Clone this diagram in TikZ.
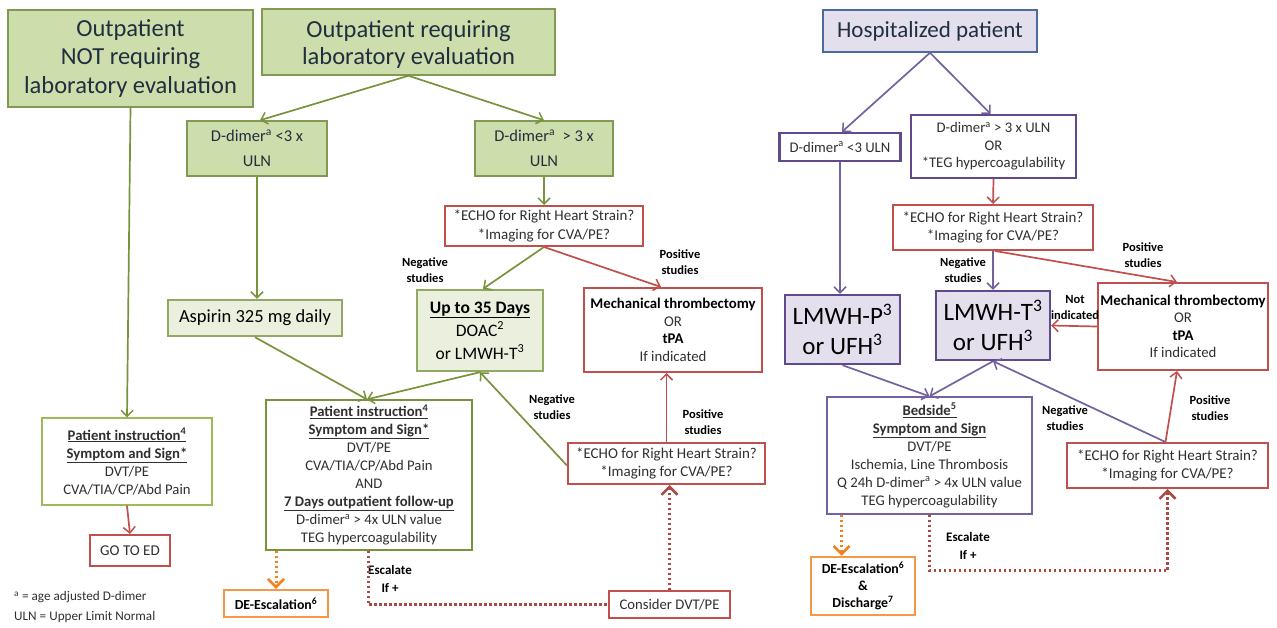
\documentclass[tikz,border=0pt]{standalone}
\usepackage{fontspec}
\setmainfont{Carlito}
\usetikzlibrary{arrows.meta}
\definecolor{gfill}{HTML}{CDDDAC}
\definecolor{gborder}{HTML}{7F9A52}
\definecolor{gline}{HTML}{77933C}
\definecolor{glight}{HTML}{9BBB59}
\definecolor{lgfill}{HTML}{EAF0DD}
\definecolor{rline}{HTML}{C0504D}
\definecolor{pline}{HTML}{604A8B}
\definecolor{parrow}{HTML}{7462A0}
\definecolor{lavfill}{HTML}{E4DFEC}
\definecolor{hborder}{HTML}{4F6A9E}
\definecolor{oline}{HTML}{F79646}
\definecolor{oarrow}{HTML}{F0821E}
\definecolor{ttext}{HTML}{1F2F3F}
\definecolor{btext}{HTML}{303030}
\newcommand{\fs}[2]{\fontsize{#1}{#2}\selectfont}
\newcommand{\bu}[1]{\textbf{\underline{#1}}}
\tikzset{
  every node/.style={align=center, inner sep=0pt, text=btext},
  title/.style={draw=gborder, fill=gfill, line width=1.5pt, text=ttext, font=\fs{24.5}{28.5}},
  gbox/.style={draw=gborder, fill=gfill, line width=1.5pt, text=ttext, font=\fs{16.5}{25}},
  lgbox/.style={draw=gline!80, fill=lgfill, line width=2.4pt, text=black},
  wgbox/.style={draw=gline, fill=white, line width=1.3pt, font=\fs{14.7}{18}},
  rbox/.style={draw=rline, fill=white, line width=2pt, font=\fs{15}{18.5}},
  pbox/.style={draw=pline, fill=white, line width=2.4pt, font=\fs{14.7}{18}},
  lavbox/.style={draw=pline, fill=lavfill, line width=2.4pt, text=black, font=\fs{25}{30}},
  obox/.style={draw=oline, fill=white, line width=2.5pt, font=\fs{13.8}{20}\bfseries, text=black},
  lbl/.style={font=\fs{12.5}{16}\bfseries, text=black},
  tip/.style={-{Straight Barb[length=6pt,width=12pt,line width=1.5pt]}},
  garr/.style={draw=gline, line width=1.7pt, tip},
  rarr/.style={draw=rline, line width=1.7pt, tip},
  parr/.style={draw=parrow, line width=1.7pt, tip},
  rdot/.style={draw=rline!90!black, line width=3pt, dash pattern=on 2.5pt off 2.5pt},
  odot/.style={draw=oarrow, line width=3pt, dash pattern=on 2.5pt off 2.5pt},
  dtip/.style={-{Straight Barb[length=8pt,width=16pt,line width=2.5pt]}},
  mechbox/.style={rbox, font=\fs{14.8}{17.5}},
}
\begin{document}
\begin{tikzpicture}[x=1pt,y=-1pt]
\useasboundingbox (0,0) rectangle (1277,627);
% ---------- left: outpatient ----------
\node[title, minimum width=245pt, minimum height=97pt] (notreq) at (130.5,58.5) {Outpatient\\NOT requiring\\laboratory evaluation};
\node[title, minimum width=293pt, minimum height=66pt,
  label={[font=\fs{24.5}{27}, text=ttext, align=center, yshift=-3pt]center:Outpatient requiring\\laboratory evaluation}] (req) at (408.5,42) {};
\node[gbox, minimum width=140pt, minimum height=55pt] (dlow) at (257,148.5) {D-dimer\textsuperscript{a} <3 x\\ULN};
\node[gbox, minimum width=138pt, minimum height=55pt] (dhigh) at (544,148.5) {D-dimer\textsuperscript{a}\ \ > 3 x\\ULN};
\node[wgbox, draw=glight, minimum width=170pt, minimum height=87pt] (pi1) at (127,461.5) {\bu{Patient instruction\textsuperscript{4}}\\\bu{Symptom and Sign*}\\DVT/PE\\CVA/TIA/CP/Abd Pain};
\node[rbox, font=\fs{15}{18}, minimum width=80pt, minimum height=31pt] (goto) at (130,550.5) {GO TO ED};
\node[anchor=west, font=\fs{13.2}{20}, text=btext, align=left] (foot) at (14,607) {\textsuperscript{a} = age adjusted D-dimer\\ULN = Upper Limit Normal};
\node[lgbox, font=\fs{18.5}{20}, minimum width=174pt, minimum height=36pt] (asp) at (255,318) {Aspirin 325 mg daily};
\node[rbox, minimum width=198pt, minimum height=40pt] (echo1) at (544,226) {*ECHO for Right Heart Strain?\\*Imaging for CVA/PE?};
\node[lgbox, font=\fs{17.5}{23}, minimum width=126pt, minimum height=81pt] (up35) at (480,330.5) {\bu{Up to 35 Days}\\DOAC\textsuperscript{2}\\or LMWH-T\textsuperscript{3}};
\node[mechbox, minimum width=178pt, minimum height=84pt] (mech1) at (673,330) {\textbf{\color{black}Mechanical thrombectomy}\\OR\\\textbf{\color{black}tPA}\\If indicated};
\node[wgbox, minimum width=206pt, minimum height=150pt] (pi2) at (369,475) {\bu{Patient instruction\textsuperscript{4}}\\\bu{Symptom and Sign*}\\DVT/PE\\CVA/TIA/CP/Abd Pain\\AND\\\bu{7 Days outpatient follow-up}\\D-dimer\textsuperscript{a} > 4x ULN value\\TEG hypercoagulability};
\node[rbox, minimum width=197pt, minimum height=41pt] (echo2) at (666.5,463.5) {*ECHO for Right Heart Strain?\\*Imaging for CVA/PE?};
\node[rbox, font=\fs{14.7}{18}, minimum width=121pt, minimum height=27pt] (consider) at (669.5,604.5) {Consider DVT/PE};
\node[obox, minimum width=104pt, minimum height=27pt] (de1) at (276,603.5) {DE-Escalation\textsuperscript{6}};
% labels left
\node[lbl] (l1) at (425,270) {Negative\\studies};
\node[lbl] (l2) at (680,262) {Positive\\studies};
\node[lbl] (l3) at (552,407) {Negative\\studies};
\node[lbl] (l4) at (703,422) {Positive\\studies};
\node[lbl, font=\fs{13}{18}\bfseries] (l5) at (390,579) {Escalate\\If +};
% connectors left
\draw[garr] (notreq.south) -- (pi1.north);
\draw[rarr] (pi1.south) -- (goto.north);
\draw[garr] (req.south) -- ([xshift=3pt]dlow.north);
\draw[garr] (req.south) -- (dhigh.north);
\draw[garr] (dlow.south) -- ([xshift=2pt]asp.north);
\draw[garr] (dhigh.south) -- (echo1.north);
\draw[garr] (echo1.south) -- ([xshift=3pt]up35.north);
\draw[rarr] (echo1.south) -- ([xshift=-12pt]mech1.north);
\draw[garr] (asp.south) -- ([xshift=-2pt]pi2.north);
\draw[garr] (up35.south) -- ([xshift=-2pt]pi2.north);
\draw[garr] ([yshift=-2pt]echo2.west) -- (up35.south);
\draw[rarr] (echo2.north) -- (echo2.north |- mech1.south);
\draw[rdot, dtip] (consider.north) -- (consider.north |- echo2.south);
\draw[rdot] ([xshift=-1pt]pi2.south) |- (consider.west);
\draw[odot, dtip] (pi2.south -| de1.north) -- (de1.north);
% ---------- right: hospitalized ----------
\node[draw=hborder, fill=lavfill, line width=1.5pt, text=ttext, font=\fs{23}{26}, minimum width=214pt, minimum height=42pt] (hosp) at (930,31) {Hospitalized patient};
\node[pbox, minimum width=121pt, minimum height=28pt] (dl3) at (840,147) {D-dimer\textsuperscript{a} <3 ULN};
\node[pbox, font=\fs{14.7}{17.5}, minimum width=165pt, minimum height=63pt] (dg3) at (993.5,146.5) {D-dimer\textsuperscript{a} > 3 x ULN\\OR\\*TEG hypercoagulability};
\node[rbox, minimum width=200pt, minimum height=45pt] (echo3) at (993,227.5) {*ECHO for Right Heart Strain?\\*Imaging for CVA/PE?};
\node[lavbox, minimum width=115pt, minimum height=69pt] (lmwhp) at (842.5,329.5) {LMWH-P\textsuperscript{3}\\or UFH\textsuperscript{3}};
\node[lavbox, minimum width=114pt, minimum height=69pt] (lmwht) at (993,325.5) {LMWH-T\textsuperscript{3}\\or UFH\textsuperscript{3}};
\node[mechbox, minimum width=170pt, minimum height=87pt] (mech2) at (1183,326.5) {\textbf{\color{black}Mechanical thrombectomy}\\OR\\\textbf{\color{black}tPA}\\If indicated};
\node[pbox, line width=1.3pt, draw=parrow, minimum width=205pt, minimum height=117pt] (bed) at (929.5,455.5) {\bu{Bedside\textsuperscript{5}}\\\bu{Symptom and Sign}\\DVT/PE\\Ischemia, Line Thrombosis\\Q 24h D-dimer\textsuperscript{a} > 4x ULN value\\TEG hypercoagulability};
\node[rbox, minimum width=201pt, minimum height=45pt] (echo4) at (1167.5,465.5) {*ECHO for Right Heart Strain?\\*Imaging for CVA/PE?};
\node[obox, font=\fs{13.8}{17}\bfseries, minimum width=104pt, minimum height=58pt] (de2) at (863,586) {DE-Escalation\textsuperscript{6}\\\&\\Discharge\textsuperscript{7}};
% labels right
\node[lbl] (r1) at (963,270) {Negative\\studies};
\node[lbl] (r2) at (1143,255) {Positive\\studies};
\node[lbl] (r3) at (1075,307) {Not\\indicated};
\node[lbl] (r4) at (1065,418) {Negative\\studies};
\node[lbl] (r5) at (1210,408) {Positive\\studies};
\node[lbl, font=\fs{13}{18}\bfseries] (r6) at (968,546) {Escalate\\If +};
% connectors right
\draw[parr] (hosp.south) -- ([xshift=2pt]dl3.north);
\draw[parr] (hosp.south) -- ([xshift=-3pt]dg3.north);
\draw[rarr] (dg3.south) -- (echo3.north);
\draw[parr] (echo3.south) -- (lmwht.north);
\draw[rarr] ([xshift=2pt]echo3.south) -- ([xshift=-6pt]mech2.north);
\draw[parr] (dl3.south) -- (dl3.south |- lmwhp.north);
\draw[rarr] (mech2.west) -- (lmwht.east);
\draw[parr] (lmwhp.south) -- (bed.north);
\draw[parr] (lmwht.south) -- (bed.north);
\draw[parr] ([xshift=-2pt]echo4.north) -- (lmwht.south);
\draw[rarr] ([xshift=-2pt]echo4.north) -- ([xshift=-6pt]mech2.south);
\draw[odot, dtip] ([xshift=-88pt]bed.south) -- ([xshift=-88pt]bed.south |- de2.north);
\draw[rdot, dtip] (bed.south) -- ++(0,56) -| (echo4.south);
\end{tikzpicture}
\end{document}
